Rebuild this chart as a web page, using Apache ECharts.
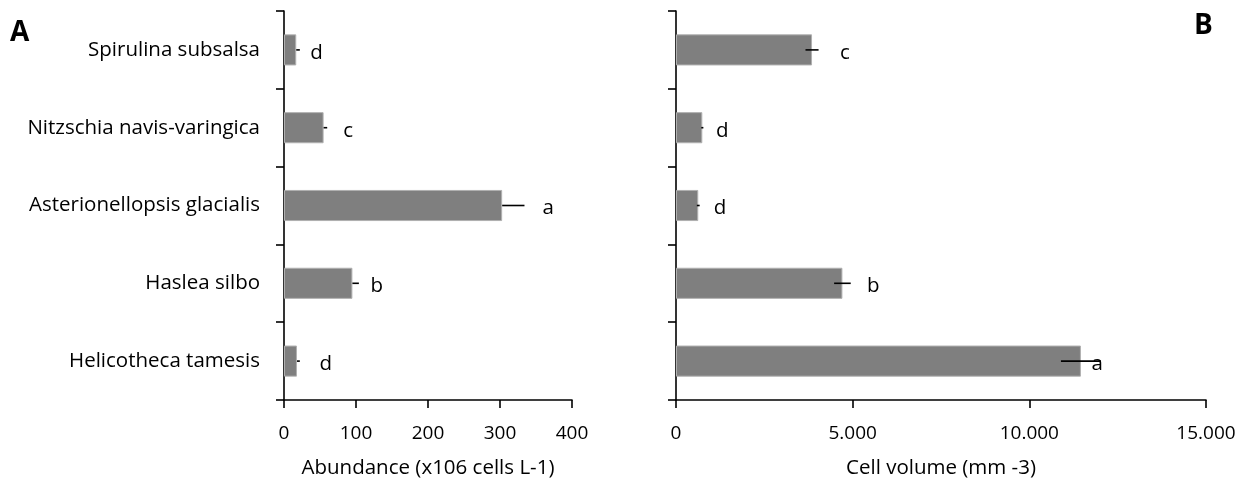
<!DOCTYPE html>
<html>
<head>
<meta charset="utf-8">
<script src="https://cdn.jsdelivr.net/npm/echarts@6/dist/echarts.min.js"></script>
<style>
html,body{margin:0;padding:0;background:#fff;}
#chart{width:1251px;height:481px;}
</style>
</head>
<body>
<div id="chart"></div>
<script>
// Categories, top to bottom
const categories = ['Spirulina subsalsa','Nitzschia navis-varingica','Asterionellopsis glacialis','Haslea silbo','Helicotheca tamesis'];

// Panel A: abundance (x106 cells L-1)
const abundance = [17, 55, 303, 95, 18];
const abundanceErr = [5, 5, 31, 9, 4];
const abundanceLetters = ['d','c','a','b','d'];
const abundanceLetterPos = [45, 89, 367, 129, 58];

// Panel B: cell volume (mm -3)
const volume = [3850, 745, 630, 4710, 11460];
const volumeErr = [185, 30, 40, 235, 565];
const volumeLetters = ['c','d','d','b','a'];
const volumeLetterPos = [4780, 1310, 1245, 5585, 11920];

const xTicksA = [0, 100, 200, 300, 400];
const xTicksB = [0, 5000, 10000, 15000];

const FONT = '"Open Sans", sans-serif';
const FS = 20.5;
const FS_TICK = 19;

const chart = echarts.init(document.getElementById('chart'), null, {renderer:'canvas'});

function errSeries(idx, vals, errs, plusOnly){
  return {
    type:'custom', xAxisIndex: idx, yAxisIndex: idx, z: 5,
    data: vals.map((v,i)=>[v, i, errs[i]]),
    renderItem: function(params, api){
      const v = api.value(0), c = api.value(1), e = api.value(2);
      const p1 = api.coord([plusOnly ? v : v - e, c]);
      const p2 = api.coord([v + e, c]);
      return {type:'line', shape:{x1:p1[0], y1:p1[1], x2:p2[0], y2:p2[1]},
        style:{stroke:'#000', lineWidth:1.6}};
    }
  };
}
function letterSeries(idx, pos, letters){
  return {
    type:'custom', xAxisIndex: idx, yAxisIndex: idx, z: 6,
    data: pos.map((v,i)=>[v, i]),
    renderItem: function(params, api){
      const p = api.coord([api.value(0), api.value(1)]);
      return {type:'text', x:p[0], y:p[1]+3,
        style:{text: letters[params.dataIndex], fill:'#000', font: FS+'px '+FONT, align:'center', verticalAlign:'middle'}};
    }
  };
}

const axisLine = {show:true, lineStyle:{color:'#000', width:1.6}};
const axisTick = {show:true, length:8, lineStyle:{color:'#000', width:1.6}};

chart.setOption({
  animation:false,
  backgroundColor:'#fff',
  textStyle:{fontFamily: FONT},
  graphic:[
    {type:'text', left:10, top:19, style:{text:'A', font:'bold 28px '+FONT, fill:'#000'}},
    {type:'text', left:1194, top:12, style:{text:'B', font:'bold 28px '+FONT, fill:'#000'}}
  ],
  grid:[
    {left:284, top:11, width:288, height:389, containLabel:false, outerBoundsMode:'none'},
    {left:676, top:11, width:530, height:389, containLabel:false, outerBoundsMode:'none'}
  ],
  xAxis:[
    {gridIndex:0, type:'value', min:xTicksA[0], max:xTicksA[xTicksA.length-1], interval:100,
     axisLine, axisTick, splitLine:{show:false},
     axisLabel:{color:'#000', fontSize:FS_TICK, fontFamily:FONT, margin:24},
     name:'Abundance (x106 cells L-1)', nameLocation:'middle', nameGap:58,
     nameTextStyle:{color:'#000', fontSize:FS, fontFamily:FONT}},
    {gridIndex:1, type:'value', min:xTicksB[0], max:xTicksB[xTicksB.length-1], interval:5000,
     axisLine, axisTick, splitLine:{show:false},
     axisLabel:{color:'#000', fontSize:FS_TICK, fontFamily:FONT, margin:24,
       formatter: v => v === 0 ? '0' : (v/1000).toFixed(3)},
     name:'Cell volume (mm -3)', nameLocation:'middle', nameGap:58,
     nameTextStyle:{color:'#000', fontSize:FS, fontFamily:FONT}}
  ],
  yAxis:[
    {gridIndex:0, type:'category', data:categories, inverse:true,
     axisLine, axisTick,
     axisLabel:{color:'#000', fontSize:FS, fontFamily:FONT, margin:24, padding:[6,0,0,0]}},
    {gridIndex:1, type:'category', data:categories, inverse:true,
     axisLine, axisTick, axisLabel:{show:false}}
  ],
  series:[
    {type:'bar', xAxisIndex:0, yAxisIndex:0, data:abundance, barWidth:'40%',
     itemStyle:{color:'#7f7f7f', borderColor:'#b0b0b0', borderWidth:1}},
    {type:'bar', xAxisIndex:1, yAxisIndex:1, data:volume, barWidth:'40%',
     itemStyle:{color:'#7f7f7f', borderColor:'#b0b0b0', borderWidth:1}},
    errSeries(0, abundance, abundanceErr, true),
    errSeries(1, volume, volumeErr, false),
    letterSeries(0, abundanceLetterPos, abundanceLetters),
    letterSeries(1, volumeLetterPos, volumeLetters)
  ]
});
</script>
</body>
</html>
